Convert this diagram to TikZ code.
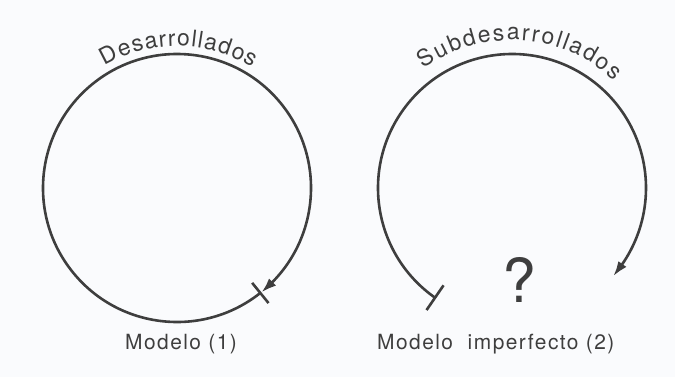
\documentclass[tikz,border=0pt]{standalone}
\usepackage{fontspec}
\setmainfont{TeX Gyre Heros}
\newfontfamily\lblfont[LetterSpace=7]{TeX Gyre Heros}
\usepackage{tikz}
\usetikzlibrary{arrows.meta,bending,decorations.text}
\definecolor{ink}{RGB}{62,62,62}
\definecolor{paper}{RGB}{250,251,253}

\begin{document}
\begin{tikzpicture}[
  x=1bp, y=1bp,
  every node/.style={text=ink, inner sep=0pt},
  loop/.style={draw=ink, line width=2.6bp},
  head/.tip={Latex[length=15bp,width=10bp,bend]},
  arctext/.style={decorate, decoration={text along path, text align=fit to path,
                  text color=ink, text={|\fontsize{23}{27}\selectfont|#1}}},
  lab/.style={font=\lblfont\fontsize{21}{25}\selectfont, anchor=base west}
]
  \fill[paper] (0,0) rectangle (675,377);
  \coordinate (dev) at (177,189);
  \coordinate (sub) at (512,189);
  % Circles
  \draw[loop, {Bar[width=26bp]}-{head}] (dev) ++(-51:134)
    arc[start angle=-51, end angle=-411, radius=134];
  \draw[loop, {Bar[width=30bp]}-{head}] (sub) ++(235.5:134)
    arc[start angle=235.5, end angle=-41, radius=134];
  % Texts on the arcs
  \path[arctext=Desarrollados] (dev) ++(120.5:142)
    arc[start angle=120.5, end angle=58, radius=142];
  \path[arctext=Subdesarrollados] (sub) ++(126.5:148)
    arc[start angle=126.5, end angle=46.5, radius=148];
  % Labels
  \node[font=\fontsize{61}{64}\selectfont] (q) at (519,97) {?};
  \node[lab] (m1) at (125,28) {Modelo (1)};
  \node[lab] (m2) at (377,28) {Modelo~ imperfecto (2)};
\end{tikzpicture}
\end{document}
